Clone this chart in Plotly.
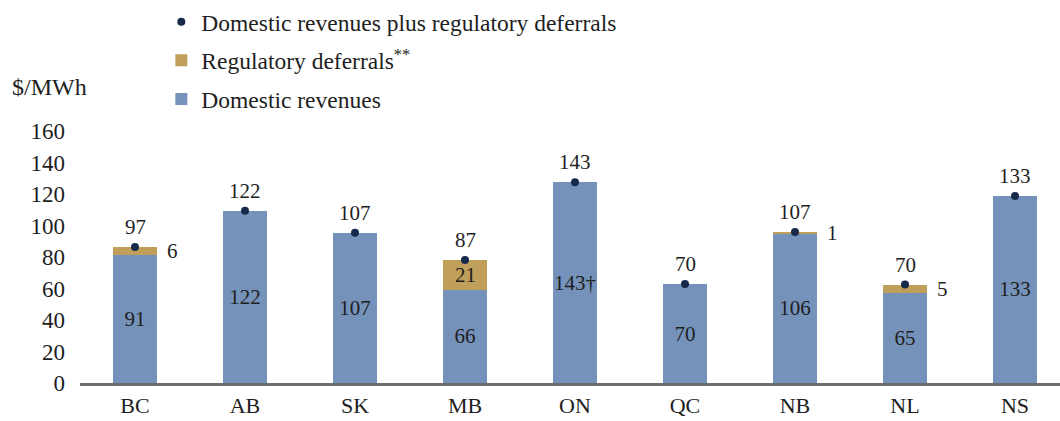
import plotly.graph_objects as go

# ---- data ----
provinces = ["BC", "AB", "SK", "MB", "ON", "QC", "NB", "NL", "NS"]
# bar heights as drawn against the $/MWh axis
domestic_height = [81.2, 109.4, 95.4, 59.2, 127.5, 62.8, 95.1, 57.3, 118.8]
deferral_height = [5.2, 0, 0, 18.9, 0, 0, 0.7, 5.2, 0]
# printed labels
domestic_label = ["91", "122", "107", "66", "143†", "70", "106", "65", "133"]
deferral_label = ["6", "", "", "21", "", "", "1", "5", ""]
total_label = ["97", "122", "107", "87", "143", "70", "107", "70", "133"]
y_ticks = [0, 20, 40, 60, 80, 100, 120, 140, 160]

total_height = [d + r for d, r in zip(domestic_height, deferral_height)]

BLUE = "#7592ba"
GOLD = "#bf9f5a"
NAVY = "#172a4b"
TXT = "#1e1e1e"
FONT = "'Liberation Serif', 'Times New Roman', serif"

fig = go.Figure()
fig.add_trace(go.Bar(
    x=provinces, y=domestic_height, name="Domestic revenues",
    marker=dict(color=BLUE, line=dict(width=0)),
    text=domestic_label, textposition="inside", insidetextanchor="middle",
    textangle=0, constraintext="none",
    insidetextfont=dict(family=FONT, size=21, color=TXT),
    width=0.4, legendgroup="g3", legendrank=3, hoverinfo="skip",
))
fig.add_trace(go.Bar(
    x=provinces, y=deferral_height, name="Regulatory deferrals<sup>**</sup>",
    marker=dict(color=GOLD, line=dict(width=0)),
    width=0.4, legendgroup="g2", legendrank=2, hoverinfo="skip",
))
fig.add_trace(go.Scatter(
    x=provinces, y=total_height, mode="markers",
    name="Domestic revenues plus regulatory deferrals",
    marker=dict(color=NAVY, size=8), cliponaxis=False,
    legendgroup="g1", legendrank=1, hoverinfo="skip",
))

annotations = []
for p, t, lab in zip(provinces, total_height, total_label):
    annotations.append(dict(x=p, y=t, text=lab, showarrow=False, yshift=20,
                            font=dict(family=FONT, size=21, color=TXT)))
for p, d, r, lab in zip(provinces, domestic_height, deferral_height, deferral_label):
    if not lab:
        continue
    if r > 10:
        annotations.append(dict(x=p, y=d + r / 2, text=lab, showarrow=False,
                                font=dict(family=FONT, size=21, color=TXT)))
    else:
        annotations.append(dict(x=p, y=d + r / 2, text=lab, showarrow=False,
                                xanchor="left", xshift=30,
                                font=dict(family=FONT, size=21, color=TXT)))
annotations.append(dict(xref="paper", yref="paper", x=-0.071, y=1.174,
                        xanchor="left", yanchor="middle", text="$/MWh",
                        showarrow=False, font=dict(family=FONT, size=24, color=TXT)))

fig.update_layout(
    width=1060, height=421,
    margin=dict(l=80, r=0, t=127, b=38, pad=0),
    barmode="stack", bargap=0.6,
    plot_bgcolor="white", paper_bgcolor="white",
    font=dict(family=FONT, size=22, color=TXT),
    showlegend=True,
    legend=dict(x=0.083, y=1.52, xanchor="left", yanchor="top",
                traceorder="grouped", tracegroupgap=5,
                font=dict(family=FONT, size=23.5, color=TXT),
                bgcolor="rgba(0,0,0,0)", itemclick=False, itemdoubleclick=False),
    annotations=annotations,
    xaxis=dict(range=[-0.5, 8.5 - 10 / 110], showline=True, linecolor="#6d6d70",
               linewidth=2.5, showgrid=False, zeroline=False, ticks="",
               ticklabelstandoff=1,
               tickfont=dict(family=FONT, size=22, color=TXT), fixedrange=True),
    yaxis=dict(range=[0, 160], tickvals=y_ticks, showline=False, showgrid=False,
               zeroline=False, ticks="", ticklabelstandoff=14,
               tickfont=dict(family=FONT, size=23, color=TXT), fixedrange=True),
)

fig.write_html("out.html", config={"displayModeBar": False},
               post_script="document.body.style.margin='0px';")
